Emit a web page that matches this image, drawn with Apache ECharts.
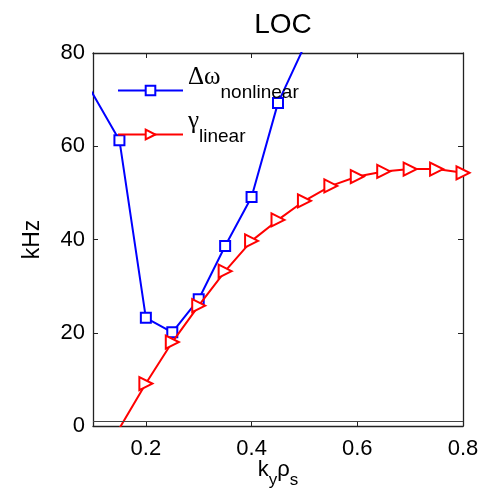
<!DOCTYPE html>
<html>
<head>
<meta charset="utf-8">
<script src="https://cdn.jsdelivr.net/npm/echarts@6/dist/echarts.min.js"></script>
<style>
  html, body { margin: 0; padding: 0; background: #fff; }
  #chart { width: 493px; height: 493px; }
</style>
</head>
<body>
<div id="chart"></div>
<script>
// Wavenumber samples (k_y rho_s)
const kNonlinear = [0.05, 0.15, 0.2, 0.25, 0.3, 0.35, 0.4, 0.45, 0.5];
const dOmegaNonlinear = [81, 61.3, 23.2, 20.1, 27.2, 38.6, 49.1, 69.3, 81.5];

const kLinear = [0.15, 0.2, 0.25, 0.3, 0.35, 0.4, 0.45, 0.5, 0.55, 0.6, 0.65, 0.7, 0.75, 0.8];
const gammaLinear = [-0.5, 9.1, 18.0, 25.8, 33.2, 39.7, 44.2, 48.3, 51.5, 53.5, 54.6, 55.1, 55.1, 54.3];

const xTicks = [0.2, 0.4, 0.6, 0.8];
const yTicks = [0, 20, 40, 60, 80];
const baselineLevel = 1;

const FONT = '"Liberation Sans", Arial, sans-serif';
const SERIF = '"Liberation Serif", "Times New Roman", serif';

const pairs = (xs, ys) => xs.map((x, i) => [x, ys[i]]);

const frameColor = '#222';

function boxAxis(base) {
  return Object.assign({
    axisLine: { show: true, onZero: false, lineStyle: { color: frameColor, width: 1.3 } },
    axisTick: { show: true, inside: true, length: 5, lineStyle: { color: frameColor, width: 1 } },
    splitLine: { show: false }
  }, base);
}

const chart = echarts.init(document.getElementById('chart'));
chart.setOption({
  animation: false,
  backgroundColor: '#fff',
  title: {
    text: 'LOC',
    left: 278,
    textAlign: 'center',
    top: 6,
    textStyle: { fontFamily: FONT, fontSize: 28, fontWeight: 'normal', color: '#000' }
  },
  grid: { left: 93, right: 30, top: 53, bottom: 67, outerBoundsMode: 'none', containLabel: false },
  legend: {
    orient: 'vertical',
    left: 117,
    top: 65,
    padding: 0,
    itemWidth: 65,
    itemHeight: 12,
    itemGap: -7,
    selectedMode: false,
    data: ['dw', 'gamma'],
    formatter: function (name) {
      return name === 'dw' ? '{a|Δω}{b|nonlinear}' : '{a|γ}{b|linear}';
    },
    textStyle: {
      color: '#000',
      rich: {
        a: { fontFamily: SERIF, fontSize: 25, lineHeight: 24, padding: [0, 0, 26, 0], color: '#000' },
        b: { fontFamily: FONT, fontSize: 19, lineHeight: 20, padding: [4, 0, 0, 0], color: '#000' }
      }
    }
  },
  xAxis: [
    boxAxis({
      type: 'value', min: 0.1, max: 0.8, position: 'bottom',
      axisTick: { show: true, inside: true, length: 5, customValues: xTicks, lineStyle: { color: frameColor, width: 1 } },
      axisLabel: { customValues: xTicks, margin: 12, fontFamily: FONT, fontSize: 22, color: '#000',
        formatter: v => v.toFixed(1) },
      name: '{a|k}{b|y}{a|ρ}{b|s}',
      nameLocation: 'middle',
      nameGap: 33,
      nameMoveOverlap: false,
      nameTextStyle: {
        rich: {
          a: { fontFamily: FONT, fontSize: 22, lineHeight: 22, color: '#000' },
          b: { fontFamily: FONT, fontSize: 17, lineHeight: 18, padding: [20, 0, 0, 0], color: '#000' }
        }
      }
    }),
    boxAxis({
      type: 'value', min: 0.1, max: 0.8, position: 'top',
      axisTick: { show: true, inside: true, length: 5, customValues: xTicks, lineStyle: { color: frameColor, width: 1 } },
      axisLabel: { show: false }
    })
  ],
  yAxis: [
    boxAxis({
      type: 'value', min: 0, max: 80, interval: 20, position: 'left',
      axisLabel: { margin: 8, fontFamily: FONT, fontSize: 22, color: '#000' },
      name: 'kHz',
      nameLocation: 'middle',
      nameGap: 49,
      nameMoveOverlap: false,
      nameTextStyle: { fontFamily: FONT, fontSize: 23, color: '#000' }
    }),
    boxAxis({
      type: 'value', min: 0, max: 80, interval: 20, position: 'right',
      axisLabel: { show: false }
    })
  ],
  series: [
    {
      name: 'dw',
      type: 'line',
      data: pairs(kNonlinear, dOmegaNonlinear),
      clip: true,
      symbol: 'emptyRect',
      symbolSize: 10,
      showAllSymbol: true,
      lineStyle: { color: '#0000ff', width: 2 },
      itemStyle: { color: '#0000ff', borderWidth: 1.6 },
      z: 3
    },
    {
      name: 'gamma',
      type: 'line',
      data: pairs(kLinear, gammaLinear),
      clip: true,
      symbol: 'emptyTriangle',
      symbolSize: 13,
      symbolRotate: -90,
      showAllSymbol: true,
      lineStyle: { color: '#ff0000', width: 2 },
      itemStyle: { color: '#ff0000', borderWidth: 1.6 },
      markLine: {
        silent: true,
        symbol: 'none',
        label: { show: false },
        lineStyle: { color: '#444', width: 1, type: 'solid' },
        data: [{ yAxis: baselineLevel }]
      },
      z: 4
    }
  ]
});
</script>
</body>
</html>
